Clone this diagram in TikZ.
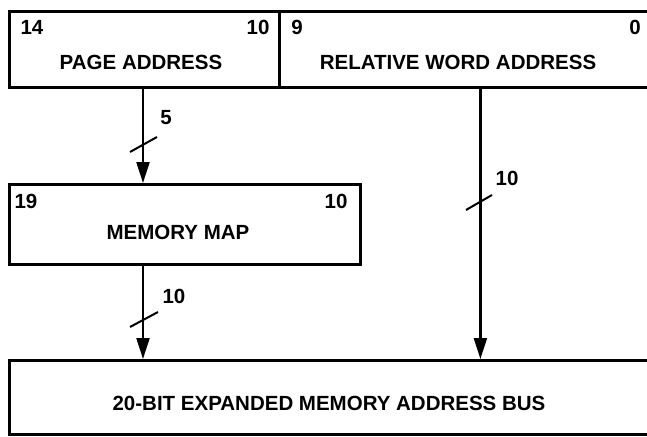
\documentclass[tikz,border=0pt]{standalone}
\usepackage{fontspec}
\setmainfont{Liberation Sans}
\usetikzlibrary{arrows.meta,calc}
\begin{document}
\begin{tikzpicture}[x=1pt,y=-1pt,
  box/.style={draw, line width=2.8pt, rectangle, inner sep=0pt, anchor=north west},
  lbl/.style={font=\fontsize{20.5}{22}\selectfont\bfseries, inner sep=0pt},
  bus/.style={line width=2.2pt, -{Triangle[length=21pt,width=13pt]}},
  tick/.style={line width=2pt}]
\useasboundingbox (0,0) rectangle (647,436);
\fill[white] (0,0) rectangle (647,436);
\clip (0,0) rectangle (647,436);
% boxes
\node[box, minimum width=270pt, minimum height=76pt] (pa) at (8,10) {};
\node[box, minimum width=402pt, minimum height=76pt] (rwa) at (278,10) {};
\node[box, minimum width=351pt, minimum height=80pt] (mm) at (8,183) {};
\node[box, minimum width=680pt, minimum height=74pt] (bus) at (8,359) {};
% texts
\node[lbl] (t14) at (32,27) {14};
\node[lbl] (t10a) at (258,27) {10};
\node[lbl] (t9) at (297,27) {9};
\node[lbl] (t0) at (635,27) {0};
\node[lbl] (tpa) at (141,62) {PAGE ADDRESS};
\node[lbl] (trwa) at (458,62) {RELATIVE WORD ADDRESS};
\node[lbl] (t19) at (26,201) {19};
\node[lbl] (t10b) at (336,201) {10};
\node[lbl] (tmm) at (178,232) {MEMORY MAP};
\node[lbl] (tbus) at (329,403) {20-BIT EXPANDED MEMORY ADDRESS BUS};
% connectors
\coordinate (a1s) at (143,86);
\coordinate (a2s) at (143,263);
\draw[bus] (a1s) -- (a1s |- mm.north);
\draw[bus] (a2s) -- (a2s |- bus.north);
\draw[bus] (rwa.south) -- (rwa.south |- bus.north);
% bus width marks
\draw[tick] (130,152) -- (157,137);
\draw[tick] (466,210) -- (492,195);
\draw[tick] (130,327) -- (158,312);
\node[lbl] (n5) at (166,118) {5};
\node[lbl] (n10r) at (507,178) {10};
\node[lbl] (n10b) at (174,296) {10};
\end{tikzpicture}
\end{document}
